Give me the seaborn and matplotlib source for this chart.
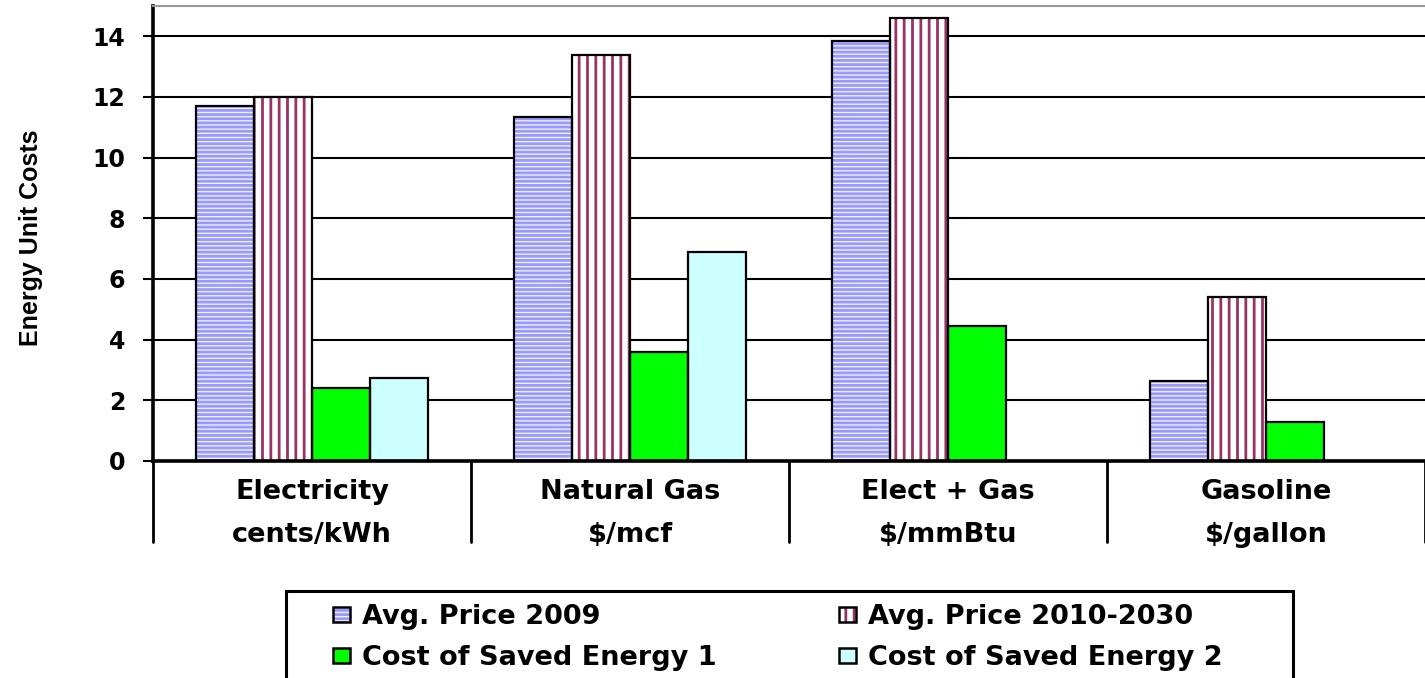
import matplotlib
matplotlib.use("Agg")
import matplotlib.pyplot as plt
from matplotlib import font_manager
from matplotlib.patches import Patch, Rectangle
from matplotlib.legend_handler import HandlerTuple
import seaborn as sns
import pandas as pd
import numpy as np

# Energy types with their unit (two-line category labels)
categories = ["Electricity", "Natural Gas", "Elect + Gas", "Gasoline"]
units = ["cents/kWh", "$/mcf", "$/mmBtu", "$/gallon"]

series = ["Avg. Price 2009", "Avg. Price 2010-2030",
          "Cost of Saved Energy 1", "Cost of Saved Energy 2"]

avg_price_2009 = [11.7, 11.35, 13.85, 2.65]
avg_price_2010_2030 = [12.0, 13.4, 14.6, 5.4]
cost_saved_1 = [2.4, 3.6, 4.45, 1.3]
cost_saved_2 = [2.75, 6.9, np.nan, np.nan]

yticks = [0, 2, 4, 6, 8, 10, 12, 14]

rows = []
for name, vals in zip(series, [avg_price_2009, avg_price_2010_2030,
                               cost_saved_1, cost_saved_2]):
    for cat, v in zip(categories, vals):
        if not np.isnan(v):
            rows.append({"category": cat, "series": name, "value": v})
df = pd.DataFrame(rows)

sns.set_theme(style="white")
plt.rcParams["font.family"] = ["DejaVu Sans"]
plt.rcParams["font.weight"] = "bold"
plt.rcParams["hatch.linewidth"] = 2.0
for key in ["text.color", "axes.labelcolor", "xtick.color", "ytick.color"]:
    plt.rcParams[key] = "black"

# a condensed face for the value axis title, if one is installed
installed = {f.name for f in font_manager.fontManager.ttflist}
narrow = next((f for f in ["Liberation Sans Narrow", "DejaVu Sans Condensed"]
               if f in installed), None)
if narrow:
    ylabel_font, ylabel_size = [narrow, "DejaVu Sans"], 21
else:
    ylabel_font, ylabel_size = ["Liberation Sans", "DejaVu Sans"], 18

# fill style per series: (face, stripe colour, hatch)
styles = {
    "Avg. Price 2009": ("#F0F0FF", "#9999FF", "----"),
    "Avg. Price 2010-2030": ("white", "#993366", "||"),
    "Cost of Saved Energy 1": ("#00FF00", "#00FF00", None),
    "Cost of Saved Energy 2": ("#CCFFFF", "#CCFFFF", None),
}

W, H = 1425, 678
fig = plt.figure(figsize=(W / 100, H / 100), dpi=100)
ax = fig.add_axes([153 / W, 1 - 461 / H, 1 - 153 / W, 455 / H])

sns.barplot(data=df, x="category", y="value", hue="series",
            order=categories, hue_order=series, width=0.73,
            palette=[styles[s][1] for s in series],
            errorbar=None, legend=False, ax=ax, zorder=2)

for cont, name in zip(ax.containers, series):
    face, stripe, hatch = styles[name]
    for p in cont.patches:
        p.set_facecolor(face)
        p.set_edgecolor(stripe)
        p.set_linewidth(0)
        if hatch:
            p.set_hatch(hatch)
        ax.add_patch(Rectangle(p.get_xy(), p.get_width(), p.get_height(),
                               fill=False, edgecolor="black", linewidth=1.6,
                               zorder=3))

ax.set_ylim(0, 15)
ax.set_xlim(-0.5, len(categories) - 0.5)
ax.set_yticks(yticks)
ax.set_yticklabels([str(t) for t in yticks], fontsize=17, fontweight="bold")
ax.yaxis.grid(True, color="black", linewidth=1.5)
ax.set_axisbelow(True)
ax.tick_params(axis="y", left=True, length=7, width=1.5, color="black", pad=13)
ax.tick_params(axis="x", bottom=False, labelbottom=False)
ax.set_xlabel("")
ax.set_ylabel("Energy Unit Costs", fontsize=ylabel_size, fontweight="bold",
              family=ylabel_font)
ax.yaxis.set_label_coords(-0.0865, 0.49)

for side in ["left", "bottom"]:
    ax.spines[side].set_color("black")
    ax.spines[side].set_linewidth(2.6)
ax.spines["top"].set_color("#999999")
ax.spines["top"].set_linewidth(1.5)
ax.spines["right"].set_visible(False)

# category table beneath the axis
trans = ax.get_xaxis_transform()
for i in range(len(categories) + 1):
    ax.plot([i - 0.5, i - 0.5], [0, -81 / 455], transform=trans,
            color="black", linewidth=2, clip_on=False)
for i, (cat, unit) in enumerate(zip(categories, units)):
    ax.text(i, -31 / 455, cat, transform=trans, ha="center", va="center",
            fontsize=19.5, fontweight="bold")
    ax.text(i, -74 / 455, unit, transform=trans, ha="center", va="center",
            fontsize=19.5, fontweight="bold")

# legend keys: hatched fill under a black outline
handles = {}
for name in series:
    face, stripe, hatch = styles[name]
    if hatch:
        fill = Patch(facecolor=face, edgecolor=stripe, hatch=hatch, linewidth=0)
    else:
        fill = Patch(facecolor=stripe, linewidth=0)
    outline = Patch(facecolor="none", edgecolor="black", linewidth=1.8)
    handles[name] = (fill, outline)

# rows: 2009 / 2010-2030, then the two saved-energy costs
order = [series[0], series[2], series[1], series[3]]
leg = fig.legend([handles[n] for n in order], order, ncol=2,
                 loc="upper left", bbox_to_anchor=(333 / W, 1 - 604 / H),
                 frameon=False, prop={"size": 19.5, "weight": "bold"},
                 handler_map={tuple: HandlerTuple(ndivide=1, pad=0)},
                 handlelength=0.63, handleheight=0.45, handletextpad=0.45,
                 columnspacing=4.5, labelspacing=0.55, borderpad=0,
                 borderaxespad=0)

# legend box, running off the lower edge of the canvas
fig.add_artist(Rectangle((286 / W, 1 - 700 / H), (1293 - 286) / W, 109 / H,
                         transform=fig.transFigure, fill=False,
                         edgecolor="black", linewidth=2.2, clip_on=False))

fig.savefig("out.png", dpi=100)
